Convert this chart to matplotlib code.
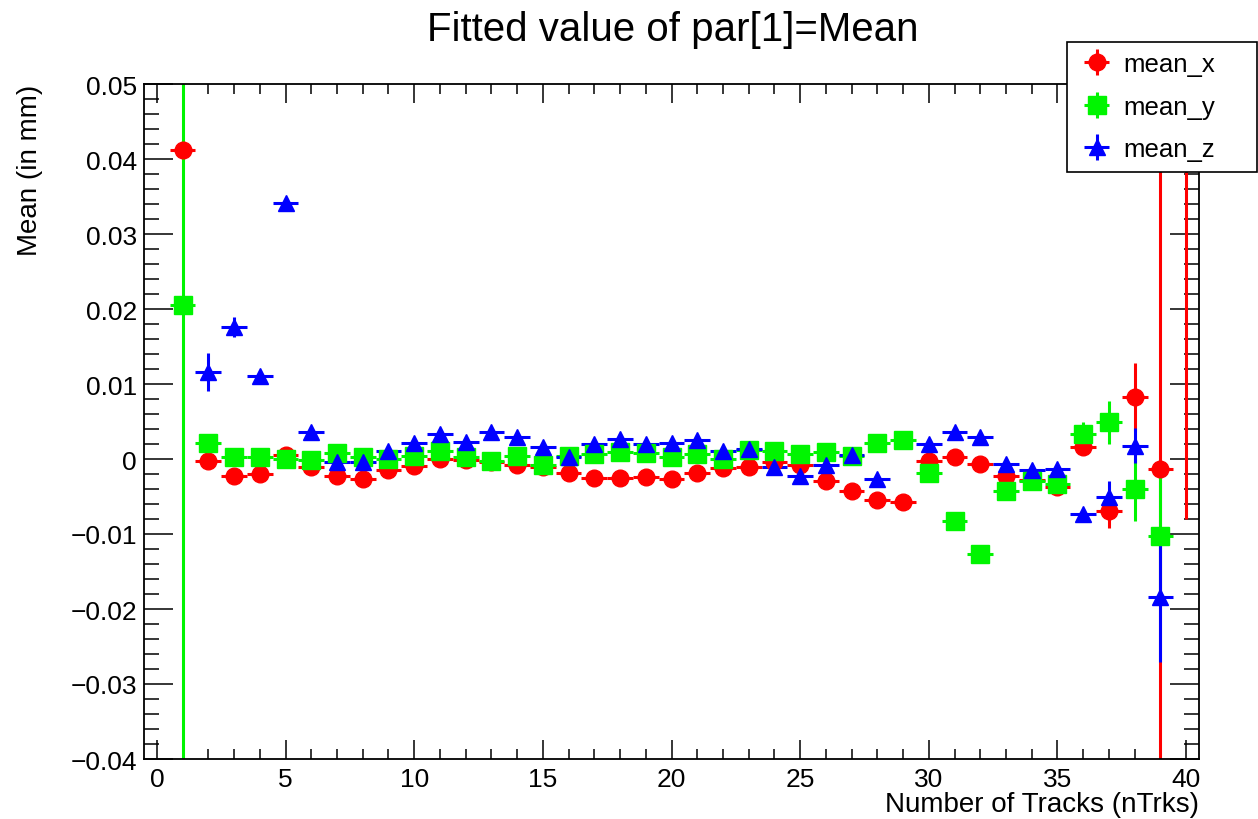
import numpy as np
import matplotlib.pyplot as plt
from matplotlib.ticker import MultipleLocator, FixedLocator, FixedFormatter

plt.rcParams['font.family'] = ['Liberation Sans', 'DejaVu Sans']

# ── Data ──────────────────────────────────────────────────
nTrks = np.arange(1, 41)

mean_x = [0.0412, -0.0003, -0.0022, -0.0020, 0.0006, -0.0010, -0.0023, -0.0026, -0.0015, -0.0009,
          0.0000, -0.0001, -0.0004, -0.0008, -0.0010, -0.0019, -0.0025, -0.0025, -0.0024, -0.0027,
          -0.0018, -0.0012, -0.0010, -0.0004, -0.0008, -0.0029, -0.0042, -0.0054, -0.0057, -0.0003,
          0.0003, -0.0007, -0.0022, -0.0028, -0.0037, 0.0016, -0.0069, 0.0083, -0.0013, 0.0600]
err_x = [0.0005, 0.0004, 0.0004, 0.0004, 0.0004, 0.0004, 0.0004, 0.0004, 0.0004, 0.0004,
         0.0004, 0.0004, 0.0004, 0.0004, 0.0004, 0.0004, 0.0004, 0.0004, 0.0004, 0.0004,
         0.0004, 0.0004, 0.0004, 0.0004, 0.0004, 0.0004, 0.0004, 0.0004, 0.0004, 0.0004,
         0.0004, 0.0004, 0.0004, 0.0004, 0.0004, 0.0008, 0.0023, 0.0045, 0.0600, 0.0680]

mean_y = [0.0205, 0.0022, 0.0003, 0.0003, 0.0000, -0.0001, 0.0008, 0.0003, 0.0000, 0.0004,
          0.0011, 0.0003, -0.0003, 0.0004, -0.0008, 0.0004, 0.0007, 0.0009, 0.0008, 0.0003,
          0.0007, 0.0000, 0.0012, 0.0011, 0.0007, 0.0009, 0.0004, 0.0022, 0.0026, -0.0018,
          -0.0083, -0.0127, -0.0042, -0.0029, -0.0033, 0.0033, 0.0049, -0.0040, -0.0102, np.nan]
err_y = [0.0700, 0.0004, 0.0004, 0.0004, 0.0004, 0.0004, 0.0004, 0.0004, 0.0004, 0.0004,
         0.0004, 0.0004, 0.0004, 0.0004, 0.0004, 0.0004, 0.0004, 0.0004, 0.0004, 0.0004,
         0.0004, 0.0004, 0.0004, 0.0004, 0.0004, 0.0004, 0.0004, 0.0004, 0.0004, 0.0004,
         0.0004, 0.0004, 0.0004, 0.0004, 0.0004, 0.0017, 0.0029, 0.0042, 0.0090, np.nan]

mean_z = [np.nan, 0.0116, 0.0176, 0.0111, 0.0341, 0.0036, -0.0004, -0.0004, 0.0011, 0.0022,
          0.0033, 0.0023, 0.0036, 0.0030, 0.0016, 0.0003, 0.0020, 0.0027, 0.0020, 0.0022,
          0.0025, 0.0011, 0.0013, -0.0011, -0.0022, -0.0008, 0.0005, -0.0027, np.nan, 0.0020,
          0.0036, 0.0029, -0.0007, -0.0014, -0.0013, -0.0073, -0.0051, 0.0018, -0.0184, np.nan]
err_z = [np.nan, 0.0025, 0.0013, 0.0005, 0.0004, 0.0004, 0.0004, 0.0004, 0.0004, 0.0004,
         0.0004, 0.0004, 0.0004, 0.0004, 0.0004, 0.0004, 0.0004, 0.0004, 0.0004, 0.0004,
         0.0004, 0.0004, 0.0004, 0.0004, 0.0004, 0.0004, 0.0004, 0.0004, np.nan, 0.0004,
         0.0004, 0.0004, 0.0004, 0.0004, 0.0004, 0.0004, 0.0022, 0.0023, 0.0087, np.nan]

series = [("mean_x", mean_x, err_x, 'o', '#ff0000', 12),
          ("mean_y", mean_y, err_y, 's', '#00f500', 13),
          ("mean_z", mean_z, err_z, '^', '#0000ff', 11.5)]

y_ticks = [-0.04, -0.03, -0.02, -0.01, 0.0, 0.01, 0.02, 0.03, 0.04, 0.05]
y_tick_labels = ['\u22120.04', '\u22120.03', '\u22120.02', '\u22120.01', '0',
                 '0.01', '0.02', '0.03', '0.04', '0.05']
x_ticks = [0, 5, 10, 15, 20, 25, 30, 35, 40]

# ── Figure ────────────────────────────────────────────────
fig = plt.figure(figsize=(12.58, 8.2), dpi=100)
ax = fig.add_axes([144 / 1258, 1 - 760 / 820, 1055 / 1258, 675 / 820])

handles = []
for name, vals, errs, mk, col, ms in series:
    v = np.array(vals, dtype=float)
    e = np.array(errs, dtype=float)
    ok = ~np.isnan(v)
    h = ax.errorbar(nTrks[ok], v[ok], xerr=0.5, yerr=e[ok], fmt=mk, color=col,
                    mec=col, mfc=col, ms=ms, elinewidth=2.2, capsize=0, label=name)
    handles.append(h)

ax.set_xlim(-0.5, 40.5)
ax.set_ylim(-0.04, 0.05)

ax.xaxis.set_major_locator(FixedLocator(x_ticks))
ax.xaxis.set_minor_locator(MultipleLocator(1))
ax.yaxis.set_major_locator(FixedLocator(y_ticks))
ax.yaxis.set_major_formatter(FixedFormatter(y_tick_labels))
ax.yaxis.set_minor_locator(MultipleLocator(0.002))

ax.tick_params(which='both', direction='in', top=True, right=True,
               width=1.1, labelsize=19, color='black')
ax.xaxis.set_tick_params(which='major', length=14, pad=6)
ax.xaxis.set_tick_params(which='minor', length=7)
ax.yaxis.set_tick_params(which='major', length=21, pad=5)
ax.yaxis.set_tick_params(which='minor', length=11)
for s in ax.spines.values():
    s.set_linewidth(1.3)

ax.set_xlabel("Number of Tracks (nTrks)", fontsize=20, loc='right', labelpad=0)
ax.set_ylabel("Mean (in mm)", fontsize=20, loc='top', labelpad=20)

fig.text(0.535, 1 - 30 / 820, "Fitted value of par[1]=Mean", fontsize=29,
         ha='center', va='center')

# ── Legend (ROOT TLegend look) ─────────────────────────────
leg = fig.legend(handles=handles, loc='upper left', mode='expand',
                 bbox_to_anchor=(1067 / 1258, 1 - 170 / 820, 190 / 1258, 127 / 820),
                 fontsize=18.5, frameon=True, fancybox=False, borderaxespad=0,
                 handlelength=1.5, borderpad=0.4, labelspacing=0.72,
                 handletextpad=0.3)
leg.get_frame().set_edgecolor('black')
leg.get_frame().set_linewidth(1.2)
leg.get_frame().set_alpha(1)

fig.savefig("out.png", dpi=100)
